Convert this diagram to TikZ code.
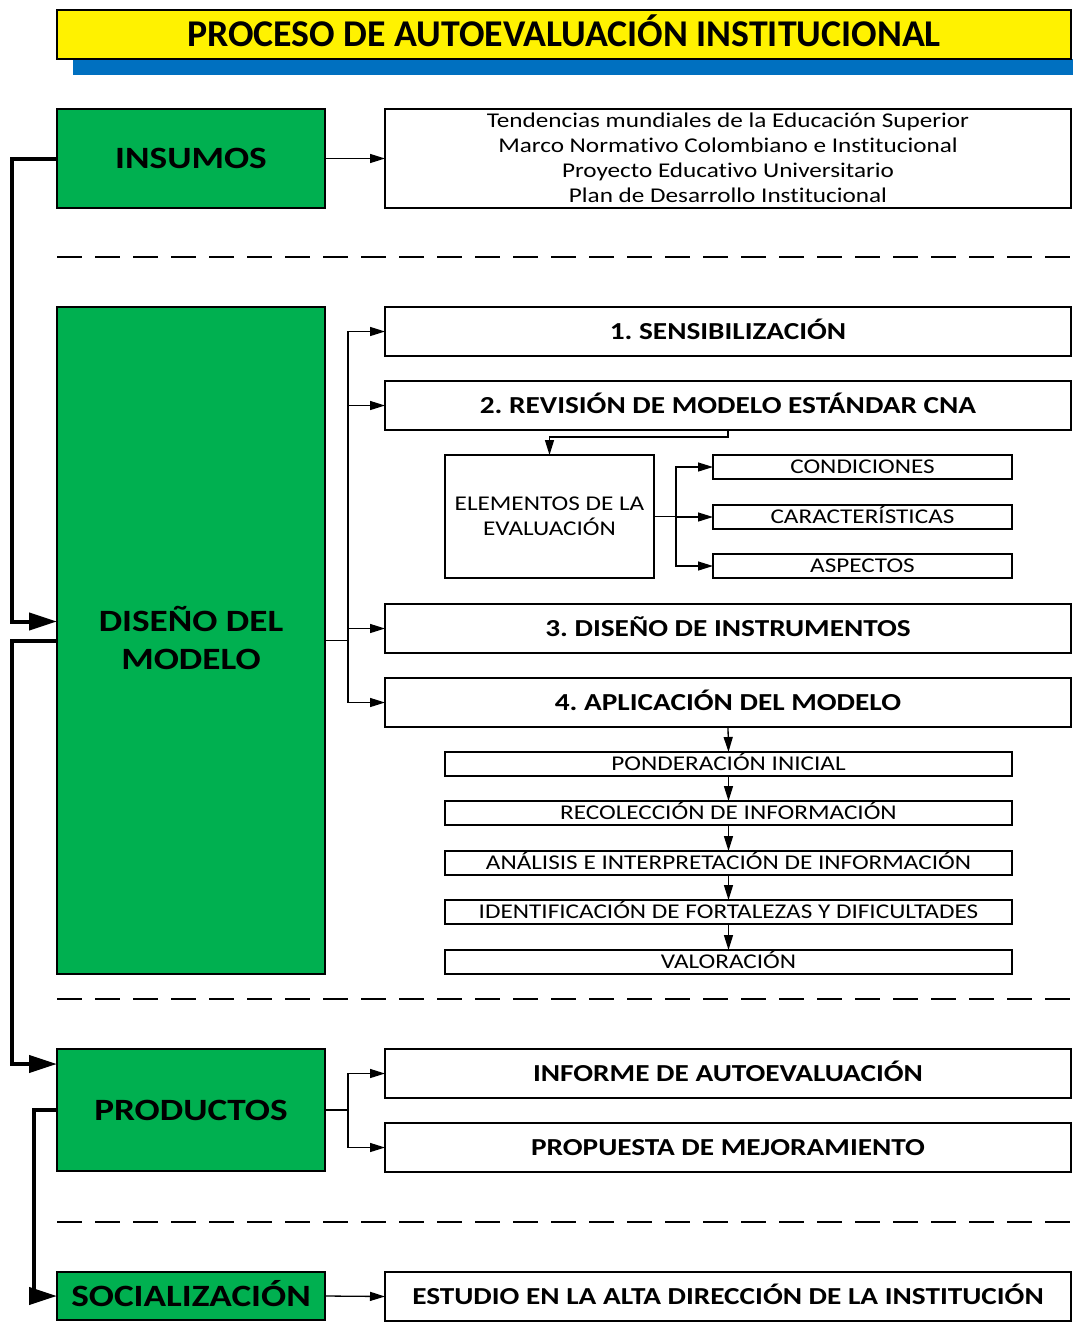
\documentclass[tikz,border=0pt]{standalone}
\usepackage{fontspec}
\setmainfont{Carlito}[Ligatures=NoCommon]
\newfontfamily\wf{Carlito}[FakeStretch=1.2, Ligatures=NoCommon]
\usetikzlibrary{arrows.meta}
\definecolor{tgreen}{HTML}{00B050}
\definecolor{tblue}{HTML}{0070C0}
\newcommand\mkbox[6]{\node[#1,minimum width={(#4-#2)*1pt},minimum height={(#5-#3)*1pt}] (#6) at ({(#2+#4)/2},{(#3+#5)/2})}
\frenchspacing
\begin{document}
\begin{tikzpicture}[x=1pt,y=-1pt,
  base/.style={draw=black, line width=1.3pt, inner sep=0pt, outer sep=0pt, align=center},
  gbox/.style={base, fill=tgreen, font=\wf\bfseries\fontsize{31}{38}\selectfont, text height=20pt, text depth=0pt},
  hbox/.style={base, fill=white, font=\wf\bfseries\fontsize{24.4}{29}\selectfont, text height=15.7pt, text depth=0pt},
  tbox/.style={base, fill=white, font=\wf\fontsize{21}{25}\selectfont, text height=13.5pt, text depth=0pt},
  ttl/.style={base, fill=yellow, font=\bfseries\fontsize{37.8}{40}\selectfont, text height=24.3pt, text depth=0pt},
  arr/.style={line width=1.3pt, -{Triangle[length=15pt,width=9pt]}},
  thk/.style={line width=4pt, -{Triangle[length=28pt,width=17pt]}},
  sep/.style={line width=2.5pt, dash pattern=on 25pt off 13pt}]
\useasboundingbox (0,0) rectangle (1073,1342);
% title
\fill[tblue] (73,59) rectangle (1073,75);
\mkbox{ttl}{57}{10}{1071}{59}{title} {\frenchspacing PROCESO DE AUTOEVALUACIÓN INSTITUCIONAL};
% insumos
\mkbox{gbox}{57}{109}{325}{208}{ins} {INSUMOS};
\mkbox{tbox,text height=88.5pt}{385}{109}{1071}{208}{tend} {Tendencias mundiales de la Educación Superior\\Marco Normativo Colombiano e Institucional\\Proyecto Educativo Universitario\\Plan de Desarrollo Institucional};
\draw[sep] (57,257) -- (1071,257);
% diseño
\mkbox{gbox,text height=58pt}{57}{307}{325}{974}{dis} {DISEÑO DEL\\MODELO};
\mkbox{hbox}{385}{307}{1071}{356}{s1} {\frenchspacing 1. SENSIBILIZACIÓN};
\mkbox{hbox}{385}{381}{1071}{430}{s2} {\frenchspacing 2. REVISIÓN DE MODELO ESTÁNDAR CNA};
\mkbox{tbox,text height=38.5pt}{445}{455}{654}{578}{ele} {ELEMENTOS DE LA\\EVALUACIÓN};
\mkbox{tbox}{713}{455}{1012}{479}{c1} {CONDICIONES};
\mkbox{tbox}{713}{505}{1012}{529}{c2} {CARACTERÍSTICAS};
\mkbox{tbox}{713}{554}{1012}{578}{c3} {ASPECTOS};
\mkbox{hbox}{385}{604}{1071}{653}{s3} {\frenchspacing 3. DISEÑO DE INSTRUMENTOS};
\mkbox{hbox}{385}{678}{1071}{727}{s4} {\frenchspacing 4. APLICACIÓN DEL MODELO};
\mkbox{tbox}{445}{752}{1012}{776}{p1} {PONDERACIÓN INICIAL};
\mkbox{tbox}{445}{801}{1012}{825}{p2} {RECOLECCIÓN DE INFORMACIÓN};
\mkbox{tbox}{445}{851}{1012}{875}{p3} {ANÁLISIS E INTERPRETACIÓN DE INFORMACIÓN};
\mkbox{tbox}{445}{900}{1012}{924}{p4} {IDENTIFICACIÓN DE FORTALEZAS Y DIFICULTADES};
\mkbox{tbox}{445}{950}{1012}{974}{p5} {VALORACIÓN};
\draw[sep] (57,999) -- (1071,999);
% productos
\mkbox{gbox}{57}{1049}{325}{1171}{prod} {PRODUCTOS};
\mkbox{hbox}{385}{1049}{1071}{1098}{i1} {INFORME DE AUTOEVALUACIÓN};
\mkbox{hbox}{385}{1123}{1071}{1172}{i2} {PROPUESTA DE MEJORAMIENTO};
\draw[sep] (57,1222) -- (1071,1222);
% socializacion
\mkbox{gbox}{57}{1272}{325}{1320}{soc} {SOCIALIZACIÓN};
\mkbox{hbox}{385}{1272}{1071}{1321}{est} {ESTUDIO EN LA ALTA DIRECCIÓN DE LA INSTITUCIÓN};
% thin connectors
\draw[arr] (ins.east) -- (tend.west);
\draw[arr] (dis.east) -- ++(23,0) |- (s1.west);
\draw[arr] (dis.east) -- ++(23,0) |- (s2.west);
\draw[arr] (dis.east) -- ++(23,0) |- (s3.west);
\draw[arr] (dis.east) -- ++(23,0) |- (s4.west);
\draw[arr] (s2.south) -- ++(0,7) -| (ele.north);
\draw[arr] (ele.east) -- ++(22,0) |- (c1.west);
\draw[arr] (ele.east) -- ++(22,0) |- (c2.west);
\draw[arr] (ele.east) -- ++(22,0) |- (c3.west);
\draw[arr] (s4.south) -- (p1.north);
\draw[arr] (p1.south) -- (p2.north);
\draw[arr] (p2.south) -- (p3.north);
\draw[arr] (p3.south) -- (p4.north);
\draw[arr] (p4.south) -- (p5.north);
\draw[arr] (prod.east) -- ++(23,0) |- (i1.west);
\draw[arr] (prod.east) -- ++(23,0) |- (i2.west);
\draw[arr] (soc.east) -- (est.west);
% thick connectors
\draw[thk] (ins.west) -- ++(-45,0) |- ([yshift=19pt]dis.west);
\draw[thk] (dis.west) -- ++(-45,0) |- ([yshift=46pt]prod.west);
\draw[thk] (prod.west) -- ++(-23,0) |- (soc.west);
\end{tikzpicture}
\end{document}
